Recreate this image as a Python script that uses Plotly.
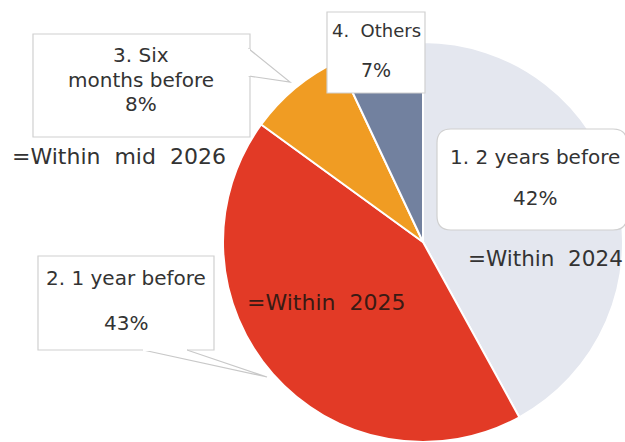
import plotly.graph_objects as go

# Survey answers: when the transition is planned
labels = ["1. 2 years before", "2. 1 year before", "3. Six months before", "4.  Others"]
shares = [42, 43, 8, 7]
targets = ["=Within  2024", "=Within  2025", "=Within  mid  2026", ""]
colors = ["#E4E7EF", "#E23A26", "#F09C23", "#72819F"]

W, H = 625, 442
FONT = "DejaVu Sans"
TXT = "#333333"


def px(x):
    return x / W


def py(y):
    return 1 - y / H


fig = go.Figure(
    go.Pie(
        labels=labels,
        values=shares,
        sort=False,
        direction="clockwise",
        rotation=0,
        marker=dict(colors=colors, line=dict(color="white", width=2)),
        textinfo="none",
        hoverinfo="label+percent",
        domain=dict(x=[223 / W, 623 / W], y=[0, 400 / H]),
        showlegend=False,
    )
)

shapes = []


def box(x0, y0, x1, y1, tail=None, radius=0):
    if radius:
        r = radius
        path = (
            f"M {px(x0 + r)},{py(y0)} L {px(x1 - r)},{py(y0)} "
            f"Q {px(x1)},{py(y0)} {px(x1)},{py(y0 + r)} "
            f"L {px(x1)},{py(y1 - r)} Q {px(x1)},{py(y1)} {px(x1 - r)},{py(y1)} "
            f"L {px(x0 + r)},{py(y1)} Q {px(x0)},{py(y1)} {px(x0)},{py(y1 - r)} "
            f"L {px(x0)},{py(y0 + r)} Q {px(x0)},{py(y0)} {px(x0 + r)},{py(y0)} Z"
        )
        shapes.append(dict(type="path", xref="paper", yref="paper", path=path,
                           fillcolor="white", line=dict(color="#D0D0D0", width=1.2)))
    else:
        shapes.append(dict(type="rect", xref="paper", yref="paper",
                           x0=px(x0), x1=px(x1), y0=py(y1), y1=py(y0),
                           fillcolor="white", line=dict(color="#D0D0D0", width=1.2)))
    if tail:
        (ax, ay), (bx, by), (tx, ty) = tail
        path = f"M {px(ax)},{py(ay)} L {px(tx)},{py(ty)} L {px(bx)},{py(by)} Z"
        shapes.append(dict(type="path", xref="paper", yref="paper", path=path,
                           fillcolor="white", line=dict(color="#C8C8C8", width=1.2)))
        # hide the box border under the tail base
        shapes.append(dict(type="line", xref="paper", yref="paper",
                           x0=px(ax), y0=py(ay), x1=px(bx), y1=py(by),
                           line=dict(color="white", width=2)))


box(437, 129, 627, 230, radius=14)
box(33, 34, 250, 137, tail=((249, 49), (249, 76), (290, 82)))
box(327, 12, 425, 93)
box(38, 256, 214, 350, tail=((143, 350), (187, 350), (267, 377)))

ann = []


def text(x, y, s, size=20, color=TXT):
    ann.append(dict(x=px(x), y=py(y), xref="paper", yref="paper", text=s,
                    showarrow=False, xanchor="center", yanchor="middle",
                    font=dict(family=FONT, size=size, color=color)))


pct = [f"{v}%" for v in shares]

text(535, 157, labels[0])
text(535, 198, pct[0])
text(545, 258, targets[0], size=21.5)

text(126, 278, labels[1])
text(126, 323, pct[1])
text(326, 302, targets[1], size=22, color="#3A1A14")

text(141, 55, "3. Six")
text(141, 80, "months before")
text(141, 104, pct[2])
text(119, 156, targets[2], size=22)

text(376, 31, labels[3], size=18)
text(376, 70, pct[3], size=19)

fig.update_layout(
    width=W,
    height=H,
    margin=dict(l=0, r=0, t=0, b=0),
    paper_bgcolor="white",
    plot_bgcolor="white",
    shapes=shapes,
    annotations=ann,
)

fig.write_html("out.html")
